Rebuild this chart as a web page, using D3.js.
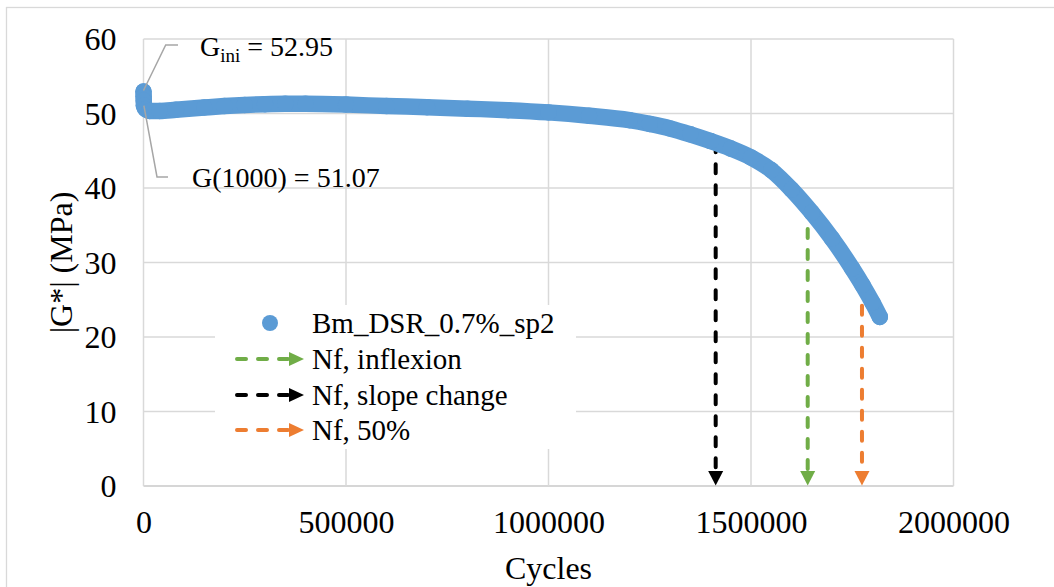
<!DOCTYPE html>
<html>
<head>
<meta charset="utf-8">
<script src="https://cdn.jsdelivr.net/npm/d3@7"></script>
<style>
  html, body { margin: 0; padding: 0; background: #fff; }
  svg { display: block; }
  text { font-family: "Liberation Serif", "Times New Roman", serif; fill: #000; }
</style>
</head>
<body>
<svg id="chart" width="1054" height="587"></svg>
<script>
// ---- data ----
const cycles = [0, 300, 600, 1000, 5000, 15000, 40000, 80000, 150000, 200000, 250000, 300000,
  350000, 400000, 500000, 600000, 700000, 800000, 900000, 1000000, 1100000, 1200000, 1250000,
  1300000, 1350000, 1400000, 1450000, 1500000, 1550000, 1600000, 1650000, 1700000, 1750000,
  1775000, 1800000, 1818000];
const modulus = [52.95, 52.3, 51.7, 51.07, 50.6, 50.35, 50.35, 50.5, 50.8, 51.0, 51.15, 51.25,
  51.3, 51.3, 51.2, 51.0, 50.85, 50.65, 50.45, 50.15, 49.7, 49.1, 48.6,
  48.0, 47.2, 46.3, 45.3, 44.1, 42.4, 39.8, 36.7, 33.2, 29.2,
  27.0, 24.6, 22.7];
const seriesName = "Bm_DSR_0.7%_sp2";

const arrowNames = ["Nf, inflexion", "Nf, slope change", "Nf, 50%"];
const arrowColors = ["#70ad47", "#000000", "#ed7d31"];
const arrowCycles = [1640000, 1412800, 1774000];
const arrowValues = [37.3, 46.0, 27.0];

const xTicks = [0, 500000, 1000000, 1500000, 2000000];
const yTicks = [0, 10, 20, 30, 40, 50, 60];
const xTitle = "Cycles";
const yTitle = "|G*| (MPa)";
const labelIni = { cycle: 0, value: 52.95, main: "G", sub: "ini", rest: " = 52.95" };
const label1000 = { cycle: 1000, value: 51.07, text: "G(1000) = 51.07" };

// ---- layout ----
const svg = d3.select("#chart");
const L = 143.5, R = 953.5, T = 39, B = 486;
const x = d3.scaleLinear().domain([0, 2000000]).range([L, R]);
const y = d3.scaleLinear().domain([0, 60]).range([B, T]);
const blue = "#5b9bd5", grid = "#d9d9d9", leader = "#a6a6a6";

// chart area border
svg.append("rect").attr("x", 6.5).attr("y", 7.5).attr("width", 1100).attr("height", 700)
  .attr("fill", "#fff").attr("stroke", grid).attr("stroke-width", 1.3);

// gridlines
const gGrid = svg.append("g");
gGrid.selectAll("line.h").data(yTicks).join("line")
  .attr("x1", L).attr("x2", R).attr("y1", d => y(d)).attr("y2", d => y(d))
  .attr("stroke", d => d === 0 ? "#c8c8c8" : grid).attr("stroke-width", 1.5);
gGrid.selectAll("line.v").data(xTicks).join("line")
  .attr("x1", d => x(d)).attr("x2", d => x(d)).attr("y1", T).attr("y2", B)
  .attr("stroke", grid).attr("stroke-width", 1.5);

// axes labels via d3 axes
const xAxis = svg.append("g").attr("transform", `translate(0,${B})`)
  .call(d3.axisBottom(x).tickValues(xTicks).tickSize(0).tickFormat(d3.format("d")));
xAxis.select(".domain").remove();
xAxis.selectAll("text").attr("y", 47).attr("dy", 0)
  .style("font-family", '"Liberation Serif", "Times New Roman", serif').style("font-size", "32px").attr("fill", "#000");

const yAxis = svg.append("g").attr("transform", `translate(${L},0)`)
  .call(d3.axisLeft(y).tickValues(yTicks).tickSize(0).tickFormat(d3.format("d")));
yAxis.select(".domain").remove();
yAxis.selectAll("text").attr("x", -27).attr("dy", "0.34em")
  .style("font-family", '"Liberation Serif", "Times New Roman", serif').style("font-size", "32px").attr("fill", "#000");

// axis titles
svg.append("text").attr("x", (L + R) / 2).attr("y", 579).attr("text-anchor", "middle")
  .style("font-size", "32px").text(xTitle);
svg.append("text").attr("transform", `translate(72,${(T + B) / 2}) rotate(-90)`)
  .attr("text-anchor", "middle").style("font-size", "32px").text(yTitle);

// arrows (drawn behind the series)
const headLen = 15, headHalf = 7.5;
const gArr = svg.append("g");
arrowCycles.forEach((c, i) => {
  const ax = x(c);
  gArr.append("line").attr("x1", ax).attr("x2", ax)
    .attr("y1", y(arrowValues[i])).attr("y2", y(0) - headLen + 2)
    .attr("stroke", arrowColors[i]).attr("stroke-width", 4)
    .attr("stroke-dasharray", "9 12").attr("stroke-linecap", "round");
  gArr.append("path")
    .attr("d", `M${ax - headHalf},${y(0) - headLen}L${ax + headHalf},${y(0) - headLen}L${ax},${y(0) - 0.5}Z`)
    .attr("fill", arrowColors[i]);
});

// series: dense markers rendered as thick round path + circles
const pts = cycles.map((c, i) => [c, modulus[i]]);
svg.append("path").datum(pts)
  .attr("d", d3.line().x(d => x(d[0])).y(d => y(d[1])).curve(d3.curveMonotoneX))
  .attr("fill", "none").attr("stroke", blue).attr("stroke-width", 16.5)
  .attr("stroke-linecap", "round").attr("stroke-linejoin", "round");
svg.append("g").selectAll("circle").data(pts).join("circle")
  .attr("cx", d => x(d[0])).attr("cy", d => y(d[1])).attr("r", 8.25).attr("fill", blue);

// data labels with leader lines
const p0x = x(labelIni.cycle), p0y = y(labelIni.value);
svg.append("polyline").attr("points", `${p0x},${p0y - 1} 165.7,45 178,45`)
  .attr("fill", "none").attr("stroke", leader).attr("stroke-width", 1.5);
const tIni = svg.append("text").attr("x", 200).attr("y", 56).style("font-size", "28px");
tIni.append("tspan").text(labelIni.main);
tIni.append("tspan").attr("dy", 6).style("font-size", "19px").text(labelIni.sub);
tIni.append("tspan").attr("dy", -6).text(labelIni.rest);

const p1x = x(label1000.cycle), p1y = y(label1000.value);
svg.append("polyline").attr("points", `${p1x},${p1y} 157,177 168,177`)
  .attr("fill", "none").attr("stroke", leader).attr("stroke-width", 1.5);
svg.append("text").attr("x", 192).attr("y", 187).style("font-size", "28px").text(label1000.text);

// legend
const lg = svg.append("g");
lg.append("rect").attr("x", 215).attr("y", 305).attr("width", 361).attr("height", 144).attr("fill", "#fff");
const rowY = [323, 359, 395, 430];
lg.append("circle").attr("cx", 270).attr("cy", rowY[0]).attr("r", 8).attr("fill", blue);
lg.append("text").attr("x", 312).attr("y", rowY[0]).attr("dy", "0.33em").style("font-size", "29px").text(seriesName);
const legOrder = [0, 1, 2];
legOrder.forEach((k, j) => {
  const yy = rowY[j + 1];
  lg.append("line").attr("x1", 237).attr("x2", 290).attr("y1", yy).attr("y2", yy)
    .attr("stroke", arrowColors[k]).attr("stroke-width", 4)
    .attr("stroke-dasharray", "9 12").attr("stroke-linecap", "round");
  lg.append("path").attr("d", `M289,${yy - 7}L289,${yy + 7}L304,${yy}Z`).attr("fill", arrowColors[k]);
  lg.append("text").attr("x", 312).attr("y", yy).attr("dy", "0.33em").style("font-size", "29px").text(arrowNames[k]);
});
</script>
</body>
</html>
